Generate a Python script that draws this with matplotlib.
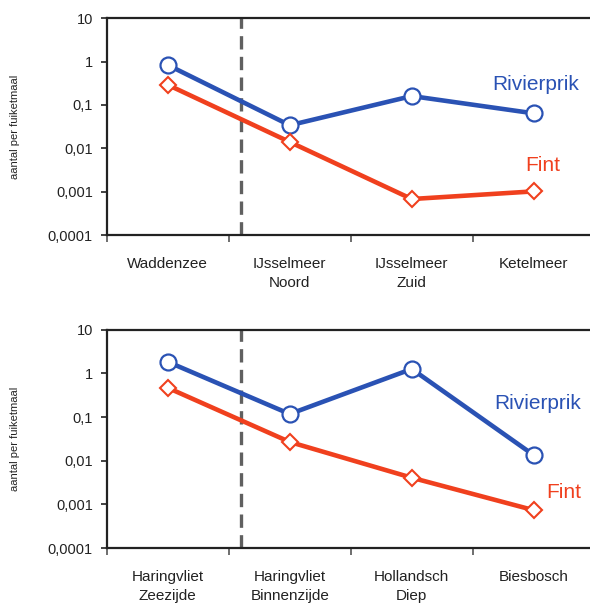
import matplotlib
matplotlib.use("Agg")
import matplotlib.pyplot as plt
from matplotlib.ticker import FixedLocator, FixedFormatter, NullFormatter

plt.rcParams['font.family'] = ['Liberation Sans', 'DejaVu Sans']

# top panel
top_sites = ["Waddenzee", "IJsselmeer\nNoord", "IJsselmeer\nZuid", "Ketelmeer"]
top_rivierprik = [0.83, 0.034, 0.16, 0.064]
top_fint = [0.29, 0.014, 0.00068, 0.00102]

# bottom panel
bot_sites = ["Haringvliet\nZeezijde", "Haringvliet\nBinnenzijde", "Hollandsch\nDiep", "Biesbosch"]
bot_rivierprik = [1.85, 0.118, 1.27, 0.0135]
bot_fint = [0.47, 0.027, 0.0041, 0.00074]

yticks = [0.0001, 0.001, 0.01, 0.1, 1, 10]
ytick_labels = ["0,0001", "0,001", "0,01", "0,1", "1", "10"]

BLUE = "#2a52b4"
RED = "#f0401e"

fig = plt.figure(figsize=(5.9, 6.03), dpi=100)
ax1 = fig.add_axes([0.181, 0.610, 0.827, 0.360])
ax2 = fig.add_axes([0.181, 0.091, 0.827, 0.362])


def panel(ax, sites, riv, fint, riv_lab, fint_lab):
    x = list(range(len(sites)))
    ax.plot(x, riv, color=BLUE, lw=3.3, marker='o', ms=11.5, mfc='white',
            mec=BLUE, mew=1.6, zorder=3)
    ax.plot(x, fint, color=RED, lw=3.3, marker='D', ms=8, mfc='white',
            mec=RED, mew=1.5, zorder=3)
    ax.axvline(0.6, color='#606060', lw=2.4, ls=(0, (4, 2.2)), zorder=2)
    ax.set_yscale('log')
    ax.set_ylim(0.0001, 10)
    ax.set_xlim(-0.5, 3.5)
    ax.yaxis.set_major_locator(FixedLocator(yticks))
    ax.yaxis.set_major_formatter(FixedFormatter(ytick_labels))
    ax.yaxis.set_minor_locator(FixedLocator([]))
    ax.tick_params(axis='y', which='major', labelsize=10.5, length=4, width=1.2,
                   pad=6, colors='#222222')
    ax.set_xticks(x)
    ax.set_xticklabels(sites, fontsize=11, linespacing=1.4)
    ax.tick_params(axis='x', which='major', length=0, pad=16, colors='#222222')
    ax.xaxis.set_minor_locator(FixedLocator([-0.5, 0.5, 1.5, 2.5]))
    ax.xaxis.set_minor_formatter(NullFormatter())
    ax.tick_params(axis='x', which='minor', length=5, width=1.2, color='#555555')
    for s in ax.spines.values():
        s.set_linewidth(1.6)
        s.set_color('#222222')
    ax.set_ylabel("aantal per fuiketmaal", fontsize=8, color='#222222')
    ax.yaxis.set_label_coords(-0.178, 0.5)
    ax.text(riv_lab[0], riv_lab[1], "Rivierprik", color=BLUE, fontsize=15,
            va='center', ha='left')
    ax.text(fint_lab[0], fint_lab[1], "Fint", color=RED, fontsize=15,
            va='center', ha='left')


panel(ax1, top_sites, top_rivierprik, top_fint, (2.66, 0.30), (2.93, 0.0041))
panel(ax2, bot_sites, bot_rivierprik, bot_fint, (2.68, 0.21), (3.1, 0.0019))

fig.savefig("out.png", dpi=100)
